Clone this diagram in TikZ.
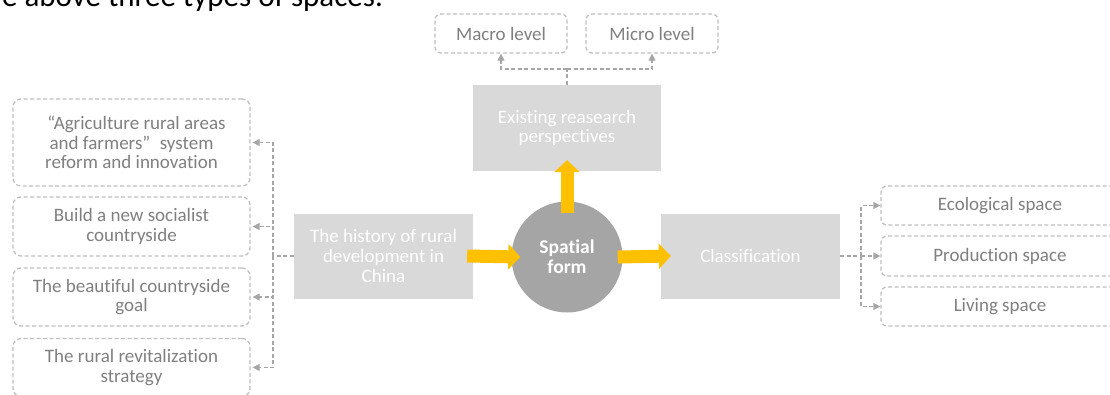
\documentclass[tikz,border=0pt]{standalone}
\usepackage{fontspec}
\setmainfont{Carlito}[RawFeature=-liga]
\usetikzlibrary{arrows.meta}
\definecolor{boxfill}{HTML}{D9D9D9}
\definecolor{circfill}{HTML}{A5A5A5}
\definecolor{yel}{HTML}{FFC000}
\definecolor{dashgray}{HTML}{BFBFBF}
\definecolor{conngray}{HTML}{A6A6A6}
\definecolor{txtgray}{HTML}{7F7F7F}
\tikzset{
  dbox/.style={draw=dashgray, line width=1.3pt, dash pattern=on 4pt off 2.5pt, rounded corners=8pt,
    minimum width=#1, inner sep=0pt, align=center, text=txtgray,
    font=\fontsize{19}{19.5}\selectfont},
  gbox/.style={fill=boxfill, inner sep=0pt, align=center, text=white,
    font=\fontsize{19}{19.7}\selectfont},
  conn/.style={draw=conngray, line width=1.3pt, dash pattern=on 4pt off 2.5pt},
  carr/.style={conn, -{Triangle[length=7pt,width=7pt]}},
  yarr/.style={draw=yel, line width=13pt, -{Triangle[length=12pt,width=25pt]}},
}
\begin{document}
\begin{tikzpicture}[x=1pt,y=-1pt]
\useasboundingbox (0,0) rectangle (1110,394);
% top cropped text
\node[anchor=base east, inner sep=0pt, font=\fontsize{31}{31}\selectfont] (toptext) at (383,6) {e above three types of spaces.};
% left boxes
\node[dbox=237pt, minimum height=87pt] (b1) at (131.5,142.5) {\hspace*{10pt}“Agriculture rural areas\\and farmers”\enspace system\\reform and innovation};
\node[dbox=237pt, minimum height=59pt] (b2) at (131.5,226.5) {Build a new socialist\\countryside};
\node[dbox=237pt, minimum height=58pt] (b3) at (131.5,297) {The beautiful countryside\\goal};
\node[dbox=237pt, minimum height=58pt] (b4) at (131.5,367.5) {The rural revitalization\\strategy};
% center row
\node[gbox, minimum width=179pt, minimum height=85pt] (hist) at (383.5,256) {The history of rural\\development in\\China};
\node[circle, fill=circfill, minimum size=111pt, inner sep=0pt, align=center, text=white,
  font=\bfseries\fontsize{19.5}{20}\selectfont] (sf) at (567,257) {Spatial\\form};
\node[gbox, minimum width=188pt, minimum height=86pt] (exist) at (567,128) {Existing reasearch\\perspectives};
\node[gbox, minimum width=179pt, minimum height=85pt] (class) at (750.5,256) {Classification};
% top boxes
\node[dbox=132pt, minimum height=39pt, rounded corners=6pt] (macro) at (501,33.5) {Macro level};
\node[dbox=132pt, minimum height=39pt, rounded corners=6pt] (micro) at (652,33.5) {Micro level};
% right boxes
\node[dbox=238pt, minimum height=39pt, rounded corners=6pt] (eco) at (1000,205.5) {Ecological space};
\node[dbox=238pt, minimum height=40pt, rounded corners=6pt] (prod) at (1000,256) {Production space};
\node[dbox=238pt, minimum height=39pt, rounded corners=6pt] (liv) at (1000,306.5) {Living space};
% left connectors
\coordinate (lj) at (273,256);
\draw[conn] (hist.west) -- (lj);
\draw[carr] (lj) |- ([xshift=2pt]b1.east);
\draw[carr] (lj) |- ([xshift=2pt]b2.east);
\draw[carr] (lj) |- ([xshift=2pt]b3.east);
\draw[carr] (lj) |- ([xshift=2pt]b4.east);
% top connectors
\coordinate (tj) at (567,69);
\draw[conn] (exist.north) -- (tj);
\draw[carr] (tj) -| (macro.south);
\draw[carr] (tj) -| (micro.south);
% right connectors
\coordinate (rj) at (861,256);
\draw[conn] (class.east) -- (rj);
\draw[carr] (rj) |- (eco.west);
\draw[carr] (rj) |- (prod.west);
\draw[carr] (rj) |- (liv.west);
% yellow arrows
\draw[yarr] ([xshift=-6pt]hist.east) -- ([xshift=9pt]sf.west);
\draw[yarr] ([yshift=-11.5pt]sf.north) -- ([yshift=11pt]exist.south);
\draw[yarr] ([xshift=-5pt]sf.east) -- ([xshift=10pt]class.west);
\end{tikzpicture}
\end{document}
